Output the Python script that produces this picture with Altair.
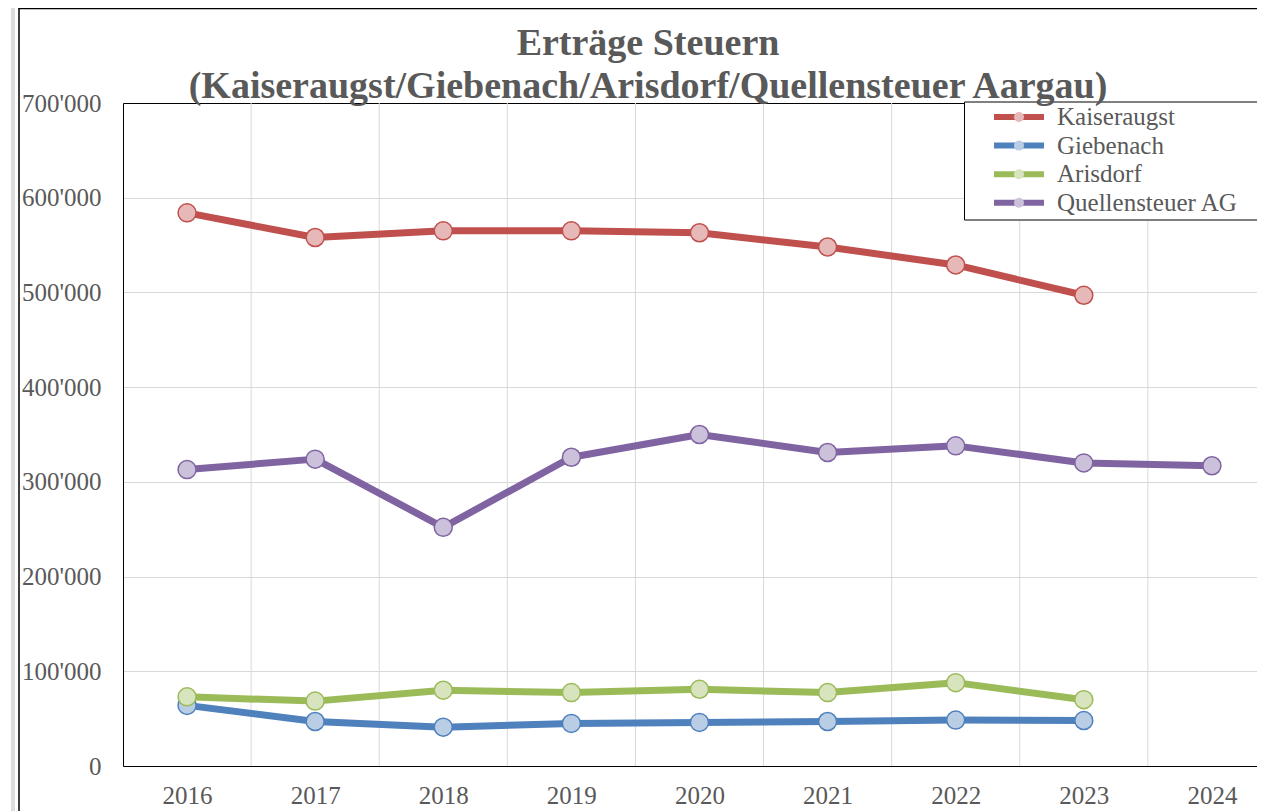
import altair as alt
import pandas as pd

years = [2016, 2017, 2018, 2019, 2020, 2021, 2022, 2023, 2024]
series = ["Kaiseraugst", "Giebenach", "Arisdorf", "Quellensteuer AG"]
kaiseraugst = [584000, 558000, 565000, 565000, 563000, 548000, 529000, 497000]
giebenach = [64000, 47000, 41000, 45000, 46000, 47000, 48500, 48000]
arisdorf = [73000, 68500, 80000, 77500, 81000, 77500, 88000, 70000]
quellensteuer = [313000, 324000, 252000, 326000, 350000, 331000, 338000, 320000, 317000]
y_ticks = [0, 100000, 200000, 300000, 400000, 500000, 600000, 700000]

line_colors = ["#C0504D", "#4F81BD", "#9BBB59", "#8064A2"]
fill_colors = ["#E6B9B8", "#B9CDE5", "#D7E4BD", "#CCC1DA"]

NB = "\u00a0"
rows = []
for name, vals in zip(series, [kaiseraugst, giebenach, arisdorf, quellensteuer]):
    for yr, v in zip(years, vals):
        rows.append({"Jahr": yr, "Ertrag": v, "Serie": name, "Serie2": name + NB})
df = pd.DataFrame(rows)
grid_df = pd.DataFrame({"Jahr": [y + 0.5 for y in years[:-1]]})

FONT = "Liberation Serif"
GREY = "#595959"
W, H = 1134, 663

x_scale = alt.Scale(domain=[2015.5, 2024.352], nice=False, zero=False)
y_scale = alt.Scale(domain=[0, 700000], nice=False)

x_axis = alt.Axis(values=years, format="d", grid=False, ticks=False, tickSize=0,
                  domainColor="black", labelFont=FONT, labelFontSize=25,
                  labelColor=GREY, labelPadding=17, labelFlush=False,
                  labelOverlap=False)
x_enc = alt.X("Jahr:Q", scale=x_scale, title=None, axis=x_axis)
y_enc = alt.Y(
    "Ertrag:Q", scale=y_scale, title=None,
    axis=alt.Axis(values=y_ticks, ticks=False, tickSize=0, domainColor="black",
                  gridColor={"condition": {"test": "datum.value >= 700000", "value": "black"},
                             "value": "#D9D9D9"},
                  labelExpr="replace(format(datum.value, ','), regexp(',', 'g'), \"'\")",
                  labelFont=FONT, labelFontSize=25, labelColor=GREY, labelPadding=22),
)

# pad the legend labels so that the legend box runs past the right edge
label_expr = "datum.label + '" + "\u00a0" * 10 + "\u200b'"
legend_common = dict(
    orient="none", legendX=841, legendY=-1.5, title=None, padding=3, rowPadding=2.6,
    labelFont=FONT, labelFontSize=25, labelColor=GREY, labelLimit=600,
    labelOffset=25.5, symbolOffset=39.5, symbolSize=100, labelExpr=label_expr,
)

gridlines = alt.Chart(grid_df).mark_rule(color="#D9D9D9", strokeWidth=1).encode(
    x=x_enc
)

lines = alt.Chart(df).mark_line(strokeWidth=7, strokeJoin="round", strokeCap="round").encode(
    x=x_enc,
    y=y_enc,
    stroke=alt.Stroke(
        "Serie:N",
        scale=alt.Scale(domain=series, range=line_colors),
        legend=alt.Legend(symbolType="M-5,0H5", symbolStrokeWidth=6,
                          fillColor="white", strokeColor="black", **legend_common),
    ),
    detail="Serie:N",
)

points = alt.Chart(df).mark_point(shape="circle", filled=True, size=324, opacity=1,
                                  strokeWidth=1.5).encode(
    x=x_enc,
    y=y_enc,
    stroke=alt.Stroke("Serie:N", scale=alt.Scale(domain=series, range=line_colors), legend=None),
    fill=alt.Fill(
        "Serie2:N",
        scale=alt.Scale(domain=[s + NB for s in series], range=fill_colors),
        legend=alt.Legend(symbolType="circle", symbolStrokeWidth=0, symbolOpacity=1,
                          labelOpacity=0, **legend_common),
    ),
)

frame_df = pd.DataFrame({"k": [0]})
sheet_strip = alt.Chart(frame_df).mark_rule(color="#DCDCDC", strokeWidth=4).encode(
    x=alt.value(-110), y=alt.value(-95), y2=alt.value(H + 50)
)
frame_left = alt.Chart(frame_df).mark_rule(color="black", strokeWidth=1.5).encode(
    x=alt.value(-104), y=alt.value(-94.5), y2=alt.value(H + 50)
)
frame_top = alt.Chart(frame_df).mark_rule(color="black", strokeWidth=1.5).encode(
    x=alt.value(-104.75), x2=alt.value(W + 5), y=alt.value(-94.5)
)

chart = alt.layer(sheet_strip, frame_left, frame_top, gridlines, lines, points).properties(
    width=W,
    height=H,
    autosize=alt.AutoSizeParams(type="none"),
    padding={"left": 115, "top": 95, "right": 0, "bottom": 45},
    title=alt.TitleParams(
        ["Erträge Steuern", "(Kaiseraugst/Giebenach/Arisdorf/Quellensteuer Aargau)"],
        font=FONT, fontSize=38, fontWeight="bold", color=GREY, anchor="middle",
        frame="group", dx=-42, offset=-99.5, lineHeight=43,
    ),
).configure_view(stroke=None).configure(background="white")

chart.save("out.html", embed_options={"renderer": "svg", "actions": False})
